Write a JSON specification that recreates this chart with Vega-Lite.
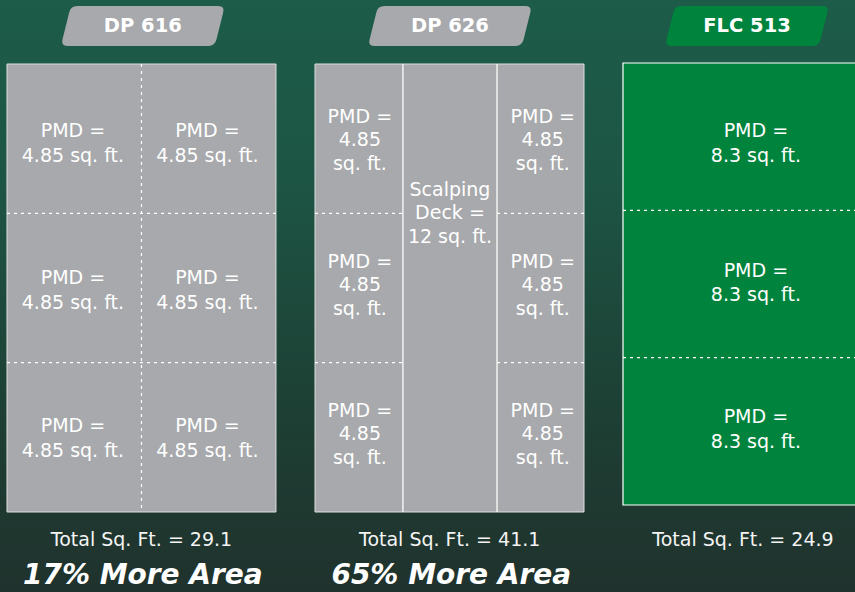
{
  "$schema": "https://vega.github.io/schema/vega-lite/v6.json",
  "autosize": {"type": "pad"},
  "padding": 0,
  "spacing": 0,
  "bounds": "flush",
  "background": "#1d4a3c",
  "config": {"view": {"stroke": null}, "text": {"font": "DejaVu Sans"}},
  "resolve": {"scale": {"x": "independent", "y": "independent"}},
  "hconcat": [
    {
      "width": 296,
      "height": 592,
      "data": {"values": [
        {"kind": "bg", "x": -1, "x2": 3, "y": -0.4286, "y2": 3.5357},
        {"kind": "board", "x": 0, "x2": 2, "y": 0, "y2": 3},
        {"kind": "dash", "x": 1, "x2": 1, "y": 0, "y2": 3},
        {"kind": "dash", "x": 0, "x2": 2, "y": 1, "y2": 1},
        {"kind": "dash", "x": 0, "x2": 2, "y": 2, "y2": 2},
        {"kind": "tab", "x": 1.01, "y": -0.2545, "text": "DP 616"},
        {"kind": "cell", "x": 0.49, "y": 0.53, "text": "PMD =\n4.85 sq. ft."},
        {"kind": "cell", "x": 1.49, "y": 0.53, "text": "PMD =\n4.85 sq. ft."},
        {"kind": "cell", "x": 0.49, "y": 1.515, "text": "PMD =\n4.85 sq. ft."},
        {"kind": "cell", "x": 1.49, "y": 1.515, "text": "PMD =\n4.85 sq. ft."},
        {"kind": "cell", "x": 0.49, "y": 2.505, "text": "PMD =\n4.85 sq. ft."},
        {"kind": "cell", "x": 1.49, "y": 2.505, "text": "PMD =\n4.85 sq. ft."},
        {"kind": "total", "x": 1.0, "y": 3.2277, "text": "Total Sq. Ft. = 29.1"},
        {"kind": "more", "x": 1.01, "y": 3.482, "text": "17% More Area"}
      ]},
      "encoding": {
        "x": {"field": "x", "type": "quantitative", "axis": null, "scale": {"domain": [-0.052, 2.149], "nice": false, "zero": false}},
        "y": {"field": "y", "type": "quantitative", "axis": null, "scale": {"domain": [-0.4286, 3.5357], "nice": false, "zero": false, "reverse": true}}
      },
      "layer": [
        {"transform": [{"filter": "datum.kind === 'bg'"}],
         "mark": {"type": "rect", "clip": true, "color": {"gradient": "linear", "x1": 0, "y1": 0, "x2": 0, "y2": 1, "stops": [{"offset": 0, "color": "#1c5c48"}, {"offset": 0.3, "color": "#1d5544"}, {"offset": 0.5, "color": "#1d4a3c"}, {"offset": 0.7, "color": "#1d3f34"}, {"offset": 1, "color": "#20322d"}]}},
         "encoding": {"x2": {"field": "x2"}, "y2": {"field": "y2"}}},
        {"transform": [{"filter": "datum.kind === 'board'"}],
         "mark": {"type": "rect", "color": "#a7a9ac", "stroke": "#dedede", "strokeWidth": 1},
         "encoding": {"x2": {"field": "x2"}, "y2": {"field": "y2"}}},
        {"transform": [{"filter": "datum.kind === 'dash'"}],
         "mark": {"type": "rule", "color": "#ffffff", "strokeWidth": 1.2, "strokeDash": [3, 4]},
         "encoding": {"x2": {"field": "x2"}, "y2": {"field": "y2"}}},
        {"transform": [{"filter": "datum.kind === 'tab'"}],
         "mark": {"type": "point", "filled": true, "opacity": 1, "strokeWidth": 0, "color": "#a7a9ac", "size": 26896,
                  "shape": "M -0.8 -0.244 L 0.92 -0.244 Q 1 -0.244 0.98 -0.166 L 0.898 0.166 Q 0.878 0.244 0.8 0.244 L -0.92 0.244 Q -1 0.244 -0.98 0.166 L -0.898 -0.166 Q -0.878 -0.244 -0.8 -0.244 Z"},
         "encoding": {}},
        {"transform": [{"filter": "datum.kind === 'tab'"}],
         "mark": {"type": "text", "color": "#ffffff", "fontWeight": "bold", "fontSize": 19.5, "baseline": "middle", "align": "center"},
         "encoding": {"text": {"field": "text"}}},
        {"transform": [{"filter": "datum.kind === 'cell'"}],
         "mark": {"type": "text", "color": "#ffffff", "fontSize": 19, "baseline": "middle", "align": "center", "lineBreak": "\n", "lineHeight": 25, "dy": -12.5},
         "encoding": {"text": {"field": "text"}}},
        {"transform": [{"filter": "datum.kind === 'total'"}],
         "mark": {"type": "text", "color": "#f4f4f4", "fontSize": 19, "baseline": "alphabetic", "align": "center"},
         "encoding": {"text": {"field": "text"}}},
        {"transform": [{"filter": "datum.kind === 'more'"}],
         "mark": {"type": "text", "color": "#ffffff", "fontSize": 28, "fontWeight": "bold", "fontStyle": "italic", "baseline": "alphabetic", "align": "center"},
         "encoding": {"text": {"field": "text"}}}
      ]
    },
    {
      "width": 308,
      "height": 592,
      "data": {"values": [
        {"kind": "bg", "x": -1, "x2": 4, "y": -0.4286, "y2": 3.5357},
        {"kind": "board", "x": 0, "x2": 3, "y": 0, "y2": 3},
        {"kind": "solid", "x": 0.98, "x2": 0.98, "y": 0, "y2": 3},
        {"kind": "solid", "x": 2.03, "x2": 2.03, "y": 0, "y2": 3},
        {"kind": "dash", "x": 0, "x2": 0.98, "y": 1, "y2": 1},
        {"kind": "dash", "x": 0, "x2": 0.98, "y": 2, "y2": 2},
        {"kind": "dash", "x": 2.03, "x2": 3, "y": 1, "y2": 1},
        {"kind": "dash", "x": 2.03, "x2": 3, "y": 2, "y2": 2},
        {"kind": "tab", "x": 1.505, "y": -0.2545, "text": "DP 626"},
        {"kind": "cell", "x": 0.5, "y": 0.509, "text": "PMD =\n4.85\nsq. ft."},
        {"kind": "cell", "x": 2.54, "y": 0.509, "text": "PMD =\n4.85\nsq. ft."},
        {"kind": "cell", "x": 0.5, "y": 1.48, "text": "PMD =\n4.85\nsq. ft."},
        {"kind": "cell", "x": 2.54, "y": 1.48, "text": "PMD =\n4.85\nsq. ft."},
        {"kind": "cell", "x": 0.5, "y": 2.478, "text": "PMD =\n4.85\nsq. ft."},
        {"kind": "cell", "x": 2.54, "y": 2.478, "text": "PMD =\n4.85\nsq. ft."},
        {"kind": "cell", "x": 1.505, "y": 0.998, "text": "Scalping\nDeck =\n12 sq. ft."},
        {"kind": "total", "x": 1.502, "y": 3.2277, "text": "Total Sq. Ft. = 41.1"},
        {"kind": "more", "x": 1.52, "y": 3.482, "text": "65% More Area"}
      ]},
      "encoding": {
        "x": {"field": "x", "type": "quantitative", "axis": null, "scale": {"domain": [-0.2119, 3.223], "nice": false, "zero": false}},
        "y": {"field": "y", "type": "quantitative", "axis": null, "scale": {"domain": [-0.4286, 3.5357], "nice": false, "zero": false, "reverse": true}}
      },
      "layer": [
        {"transform": [{"filter": "datum.kind === 'bg'"}],
         "mark": {"type": "rect", "clip": true, "color": {"gradient": "linear", "x1": 0, "y1": 0, "x2": 0, "y2": 1, "stops": [{"offset": 0, "color": "#1c5c48"}, {"offset": 0.3, "color": "#1d5544"}, {"offset": 0.5, "color": "#1d4a3c"}, {"offset": 0.7, "color": "#1d3f34"}, {"offset": 1, "color": "#20322d"}]}},
         "encoding": {"x2": {"field": "x2"}, "y2": {"field": "y2"}}},
        {"transform": [{"filter": "datum.kind === 'board'"}],
         "mark": {"type": "rect", "color": "#a7a9ac", "stroke": "#dedede", "strokeWidth": 1},
         "encoding": {"x2": {"field": "x2"}, "y2": {"field": "y2"}}},
        {"transform": [{"filter": "datum.kind === 'solid'"}],
         "mark": {"type": "rule", "color": "#f2f2f2", "strokeWidth": 1.5},
         "encoding": {"x2": {"field": "x2"}, "y2": {"field": "y2"}}},
        {"transform": [{"filter": "datum.kind === 'dash'"}],
         "mark": {"type": "rule", "color": "#ffffff", "strokeWidth": 1.2, "strokeDash": [3, 4]},
         "encoding": {"x2": {"field": "x2"}, "y2": {"field": "y2"}}},
        {"transform": [{"filter": "datum.kind === 'tab'"}],
         "mark": {"type": "point", "filled": true, "opacity": 1, "strokeWidth": 0, "color": "#a7a9ac", "size": 26896,
                  "shape": "M -0.8 -0.244 L 0.92 -0.244 Q 1 -0.244 0.98 -0.166 L 0.898 0.166 Q 0.878 0.244 0.8 0.244 L -0.92 0.244 Q -1 0.244 -0.98 0.166 L -0.898 -0.166 Q -0.878 -0.244 -0.8 -0.244 Z"},
         "encoding": {}},
        {"transform": [{"filter": "datum.kind === 'tab'"}],
         "mark": {"type": "text", "color": "#ffffff", "fontWeight": "bold", "fontSize": 19.5, "baseline": "middle", "align": "center"},
         "encoding": {"text": {"field": "text"}}},
        {"transform": [{"filter": "datum.kind === 'cell'"}],
         "mark": {"type": "text", "color": "#ffffff", "fontSize": 19, "baseline": "middle", "align": "center", "lineBreak": "\n", "lineHeight": 23.5, "dy": -23.5},
         "encoding": {"text": {"field": "text"}}},
        {"transform": [{"filter": "datum.kind === 'total'"}],
         "mark": {"type": "text", "color": "#f4f4f4", "fontSize": 19, "baseline": "alphabetic", "align": "center"},
         "encoding": {"text": {"field": "text"}}},
        {"transform": [{"filter": "datum.kind === 'more'"}],
         "mark": {"type": "text", "color": "#ffffff", "fontSize": 28, "fontWeight": "bold", "fontStyle": "italic", "baseline": "alphabetic", "align": "center"},
         "encoding": {"text": {"field": "text"}}}
      ]
    },
    {
      "width": 251,
      "height": 592,
      "data": {"values": [
        {"kind": "bg", "x": -1, "x2": 2, "y": -0.4276, "y2": 3.5905},
        {"kind": "board", "x": 0, "x2": 1, "y": 0, "y2": 3},
        {"kind": "dash", "x": 0, "x2": 1, "y": 1, "y2": 1},
        {"kind": "dash", "x": 0, "x2": 1, "y": 2, "y2": 2},
        {"kind": "tab", "x": 0.461, "y": -0.2511, "text": "FLC 513"},
        {"kind": "cell", "x": 0.494, "y": 0.546, "text": "PMD =\n8.3 sq. ft."},
        {"kind": "cell", "x": 0.494, "y": 1.493, "text": "PMD =\n8.3 sq. ft."},
        {"kind": "cell", "x": 0.494, "y": 2.488, "text": "PMD =\n8.3 sq. ft."},
        {"kind": "total", "x": 0.446, "y": 3.278, "text": "Total Sq. Ft. = 24.9"}
      ]},
      "encoding": {
        "x": {"field": "x", "type": "quantitative", "axis": null, "scale": {"domain": [-0.0706, 0.8625], "nice": false, "zero": false}},
        "y": {"field": "y", "type": "quantitative", "axis": null, "scale": {"domain": [-0.4276, 3.5905], "nice": false, "zero": false, "reverse": true}}
      },
      "layer": [
        {"transform": [{"filter": "datum.kind === 'bg'"}],
         "mark": {"type": "rect", "clip": true, "color": {"gradient": "linear", "x1": 0, "y1": 0, "x2": 0, "y2": 1, "stops": [{"offset": 0, "color": "#1c5c48"}, {"offset": 0.3, "color": "#1d5544"}, {"offset": 0.5, "color": "#1d4a3c"}, {"offset": 0.7, "color": "#1d3f34"}, {"offset": 1, "color": "#20322d"}]}},
         "encoding": {"x2": {"field": "x2"}, "y2": {"field": "y2"}}},
        {"transform": [{"filter": "datum.kind === 'board'"}],
         "mark": {"type": "rect", "clip": true, "color": "#00843d", "stroke": "#ffffff", "strokeWidth": 1.2},
         "encoding": {"x2": {"field": "x2"}, "y2": {"field": "y2"}}},
        {"transform": [{"filter": "datum.kind === 'dash'"}],
         "mark": {"type": "rule", "clip": true, "color": "#ffffff", "strokeWidth": 1.2, "strokeDash": [3, 4]},
         "encoding": {"x2": {"field": "x2"}, "y2": {"field": "y2"}}},
        {"transform": [{"filter": "datum.kind === 'tab'"}],
         "mark": {"type": "point", "filled": true, "opacity": 1, "strokeWidth": 0, "color": "#00843d", "size": 26896,
                  "shape": "M -0.8 -0.244 L 0.92 -0.244 Q 1 -0.244 0.98 -0.166 L 0.898 0.166 Q 0.878 0.244 0.8 0.244 L -0.92 0.244 Q -1 0.244 -0.98 0.166 L -0.898 -0.166 Q -0.878 -0.244 -0.8 -0.244 Z"},
         "encoding": {}},
        {"transform": [{"filter": "datum.kind === 'tab'"}],
         "mark": {"type": "text", "color": "#ffffff", "fontWeight": "bold", "fontSize": 19.5, "baseline": "middle", "align": "center"},
         "encoding": {"text": {"field": "text"}}},
        {"transform": [{"filter": "datum.kind === 'cell'"}],
         "mark": {"type": "text", "color": "#ffffff", "fontSize": 19, "baseline": "middle", "align": "center", "lineBreak": "\n", "lineHeight": 24.5, "dy": -12.25},
         "encoding": {"text": {"field": "text"}}},
        {"transform": [{"filter": "datum.kind === 'total'"}],
         "mark": {"type": "text", "color": "#f4f4f4", "fontSize": 19, "baseline": "alphabetic", "align": "center"},
         "encoding": {"text": {"field": "text"}}}
      ]
    }
  ]
}
